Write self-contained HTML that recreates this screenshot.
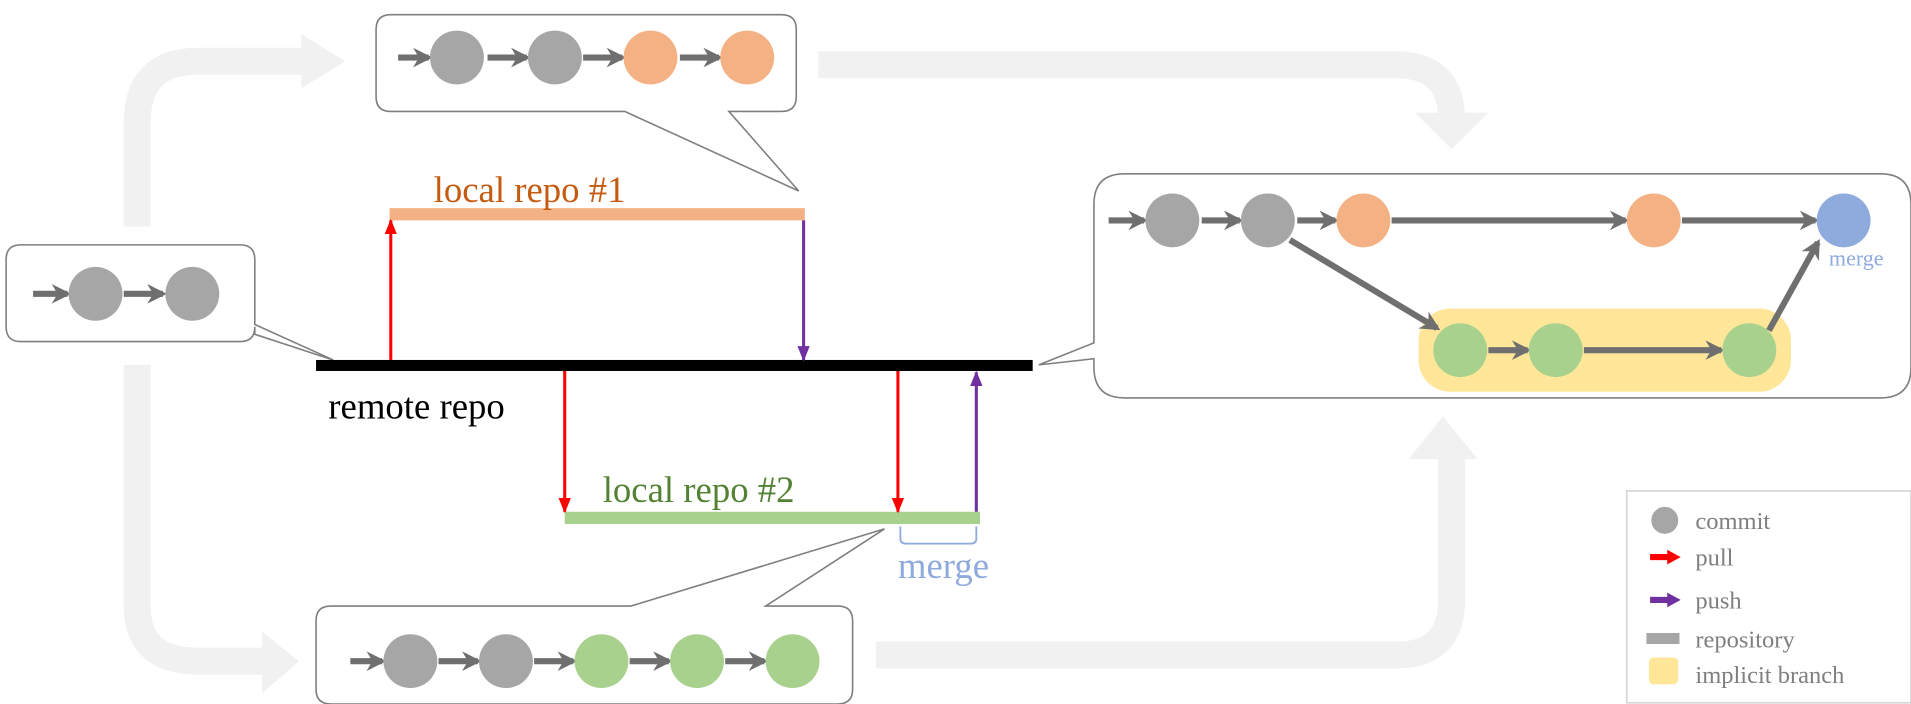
<!DOCTYPE html>
<html><head><style>html,body{margin:0;padding:0;background:#fff;}svg{display:block}</style></head>
<body>
<svg width="1911" height="704" viewBox="0 0 1560 575" preserveAspectRatio="none" xmlns="http://www.w3.org/2000/svg" font-family="'Liberation Serif',serif">
<defs>
<marker id="ga" viewBox="0 0 10 10" refX="8" refY="5" markerWidth="3.2" markerHeight="3.2" orient="auto"><path d="M0,0 L10,5 L0,10 L3,5z" fill="#6f6f6f"/></marker>
<marker id="ra" viewBox="0 0 10 10" refX="9" refY="5" markerWidth="5" markerHeight="5" orient="auto"><path d="M0,1 L10,5 L0,9z" fill="#ff0000"/></marker>
<marker id="pa" viewBox="0 0 10 10" refX="9" refY="5" markerWidth="5" markerHeight="5" orient="auto"><path d="M0,1 L10,5 L0,9z" fill="#7030a0"/></marker>
</defs>
<g fill="none" stroke="#f1f1f1" stroke-width="22">
<path d="M112,185 V100 Q112,50 162,50 H248"/>
<path d="M112,298 V495 Q112,540 162,540 H218"/>
<path d="M668,53 H1140 Q1185,53 1185,98 V95"/>
<path d="M715,535 H1140 Q1185,535 1185,490 V372"/>
</g>
<g fill="#f1f1f1">
<path d="M246,28 L282,50 L246,72z"/>
<path d="M214,516 L244,540 L214,566z"/>
<path d="M1155,92 L1185,122 L1215,92z"/>
<path d="M1150,375 L1178,340 L1206,375z"/>
</g>
<!-- boxes -->
<g fill="#fff" stroke="#7f7f7f" stroke-width="1.3">
<path d="M319,12 H638 Q650,12 650,24 V79 Q650,91 638,91 H595 L652,156 L510,91 H319 Q307,91 307,79 V24 Q307,12 319,12z"/>
<path d="M17,200 H196 Q208,200 208,212 V265 L272,294 L208,273 V267 Q208,279 196,279 H17 Q5,279 5,267 V212 Q5,200 17,200z"/>
<path d="M918,142 H1535 Q1560,142 1560,167 V300 Q1560,325 1535,325 H918 Q893,325 893,300 V293 L848,298 L893,280 V167 Q893,142 918,142z"/>
<path d="M270,495 H515 L722,432 L625,495 H684 Q696,495 696,507 V563 Q696,575 684,575 H270 Q258,575 258,563 V507 Q258,495 270,495z"/>
</g>
<rect x="1158" y="252" width="304" height="68" rx="26" fill="#ffe699"/>
<!-- commit arrows -->
<g stroke="#6f6f6f" stroke-width="5" marker-end="url(#ga)">
<path d="M325,47 H350"/><path d="M398,47 H430"/><path d="M476,47 H508"/><path d="M555,47 H587"/>
<path d="M27,240 H55"/><path d="M101,240 H133"/>
<path d="M905,180 H934"/><path d="M981,180 H1012"/><path d="M1059,180 H1090"/><path d="M1136,180 H1327"/><path d="M1373,180 H1482"/>
<path d="M1053,196 L1173,268"/><path d="M1215,286 H1247"/><path d="M1293,286 H1405"/><path d="M1444,270 L1484,198"/>
<path d="M286,540 H312"/><path d="M358,540 H390"/><path d="M436,540 H468"/><path d="M514,540 H546"/><path d="M592,540 H624"/>
</g>
<g>
<circle cx="373" cy="47" r="22" fill="#a6a6a6"/><circle cx="453" cy="47" r="22" fill="#a6a6a6"/><circle cx="531" cy="47" r="22" fill="#f4b183"/><circle cx="610" cy="47" r="22" fill="#f4b183"/>
<circle cx="78" cy="240" r="22" fill="#a6a6a6"/><circle cx="157" cy="240" r="22" fill="#a6a6a6"/>
<circle cx="957" cy="180" r="22" fill="#a6a6a6"/><circle cx="1035" cy="180" r="22" fill="#a6a6a6"/><circle cx="1113" cy="180" r="22" fill="#f4b183"/><circle cx="1350" cy="180" r="22" fill="#f4b183"/><circle cx="1505" cy="180" r="22" fill="#8faadc"/>
<circle cx="1192" cy="286" r="22" fill="#a9d18e"/><circle cx="1270" cy="286" r="22" fill="#a9d18e"/><circle cx="1428" cy="286" r="22" fill="#a9d18e"/>
<circle cx="335" cy="540" r="22" fill="#a6a6a6"/><circle cx="413" cy="540" r="22" fill="#a6a6a6"/><circle cx="491" cy="540" r="22" fill="#a9d18e"/><circle cx="569" cy="540" r="22" fill="#a9d18e"/><circle cx="647" cy="540" r="22" fill="#a9d18e"/>
</g>
<text x="1493" y="217" font-size="18" fill="#8faadc">merge</text>
<!-- repos -->
<rect x="318" y="170" width="339" height="10" fill="#f4b183"/>
<rect x="461" y="418" width="339" height="10" fill="#a9d18e"/>
<rect x="258" y="294" width="585" height="9" fill="#000"/>
<g stroke-width="2.5" fill="none">
<path d="M319,294 V180" stroke="#ff0000" marker-end="url(#ra)"/>
<path d="M656,180 V294" stroke="#7030a0" marker-end="url(#pa)"/>
<path d="M461,303 V418" stroke="#ff0000" marker-end="url(#ra)"/>
<path d="M733,303 V418" stroke="#ff0000" marker-end="url(#ra)"/>
<path d="M797,418 V304" stroke="#7030a0" marker-end="url(#pa)"/>
<path d="M735,430 V440 Q735,444 740,444 H792 Q797,444 797,440 V430" stroke="#8faadc" stroke-width="1.5"/>
</g>
<text x="354" y="165" font-size="30" fill="#c55a11">local repo #1</text>
<text x="268" y="342" font-size="30" fill="#000">remote repo</text>
<text x="492" y="410" font-size="30" fill="#548235">local repo #2</text>
<text x="733" y="472" font-size="30" fill="#8faadc">merge</text>
<!-- legend -->
<rect x="1328" y="401" width="232" height="173" fill="#fff" stroke="#d9d9d9" stroke-width="1.5"/>
<circle cx="1359" cy="425" r="11" fill="#a6a6a6"/>
<path d="M1347,455 H1362" stroke="#ff0000" stroke-width="5"/><path d="M1361,449 L1372,455 L1361,461z" fill="#ff0000"/>
<path d="M1347,490 H1362" stroke="#7030a0" stroke-width="5"/><path d="M1361,484 L1372,490 L1361,496z" fill="#7030a0"/>
<rect x="1344" y="517" width="27" height="9" fill="#a6a6a6"/>
<rect x="1346" y="537" width="24" height="22" rx="4" fill="#ffe699"/>
<g font-size="20" fill="#7f7f7f">
<text x="1384" y="432">commit</text>
<text x="1384" y="462">pull</text>
<text x="1384" y="497">push</text>
<text x="1384" y="529">repository</text>
<text x="1384" y="558">implicit branch</text>
</g>
</svg>
</body></html>
